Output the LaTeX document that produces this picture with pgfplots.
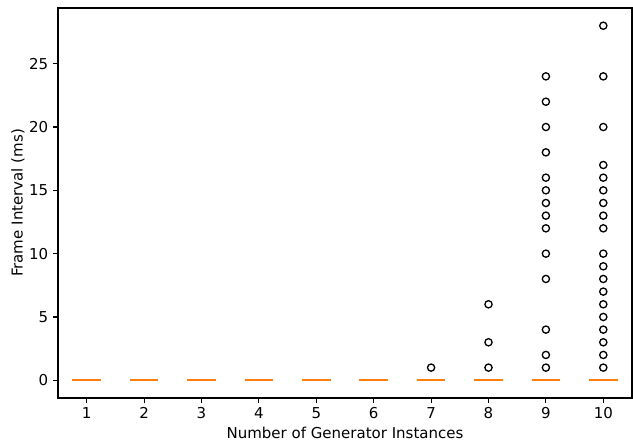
\documentclass[border=0pt]{standalone}
\usepackage{pgfplots}
\pgfplotsset{compat=1.18}
\usepackage{fontspec}
\setmainfont{DejaVu Sans}
\definecolor{mplorange}{HTML}{FF7F0E}
\begin{document}
\begin{tikzpicture}
\begin{axis}[
  at={(0,0)}, anchor=south west,
  scale only axis, width=413.28pt, height=280.8pt,
  xmin=0.5, xmax=10.5, ymin=-1.4, ymax=29.4,
  xtick={1,...,10}, ytick={0,5,...,25},
  tick align=outside, tick pos=left, major tick length=3.5pt,
  tick style={black, line width=0.8pt},
  axis line style={line width=0.8pt},
  /pgf/number format/assume math mode=true,
  ticklabel style={font=\fontsize{10.8}{13}\selectfont},
  xlabel={Number of Generator Instances},
  ylabel={Frame Interval (ms)},
  every axis x label/.style={at={(axis description cs:0.5,0)}, yshift=-24.8pt, anchor=center, font=\fontsize{10.8}{13}\selectfont},
  every axis y label/.style={at={(axis description cs:0,0.5)}, xshift=-28.8pt, rotate=90, anchor=center, font=\fontsize{10.8}{13}\selectfont},
  unbounded coords=jump,
  clip=false,
]
% degenerate boxes / caps (black, under the medians)
\addplot[black, line width=0.8pt, no markers] coordinates {
 (0.75,0) (1.25,0) (1.5,nan) (1.75,0) (2.25,0) (2.5,nan)
 (2.75,0) (3.25,0) (3.5,nan) (3.75,0) (4.25,0) (4.5,nan)
 (4.75,0) (5.25,0) (5.5,nan) (5.75,0) (6.25,0) (6.5,nan)
 (6.75,0) (7.25,0) (7.5,nan) (7.75,0) (8.25,0) (8.5,nan)
 (8.75,0) (9.25,0) (9.5,nan) (9.75,0) (10.25,0)};
% medians (all zero)
\addplot[mplorange, line width=1.3pt, no markers] coordinates {
 (0.75,0) (1.25,0) (1.5,nan) (1.75,0) (2.25,0) (2.5,nan)
 (2.75,0) (3.25,0) (3.5,nan) (3.75,0) (4.25,0) (4.5,nan)
 (4.75,0) (5.25,0) (5.5,nan) (5.75,0) (6.25,0) (6.5,nan)
 (6.75,0) (7.25,0) (7.5,nan) (7.75,0) (8.25,0) (8.5,nan)
 (8.75,0) (9.25,0) (9.5,nan) (9.75,0) (10.25,0)};
% outliers
\addplot[only marks, mark=o, mark size=2.6pt, mark options={black, line width=0.95pt, fill=none}] table {
x y
7 1
8 6
8 3
8 1
9 24
9 22
9 20
9 18
9 16
9 15
9 14
9 13
9 12
9 10
9 8
9 4
9 2
9 1
10 28
10 24
10 20
10 17
10 16
10 15
10 14
10 13
10 12
10 10
10 9
10 8
10 7
10 6
10 5
10 4
10 3
10 2
10 1
};
\end{axis}
\pgfresetboundingbox
\useasboundingbox (-41.76pt,-33.84pt) rectangle (414pt,286.56pt);
\end{tikzpicture}
\end{document}
